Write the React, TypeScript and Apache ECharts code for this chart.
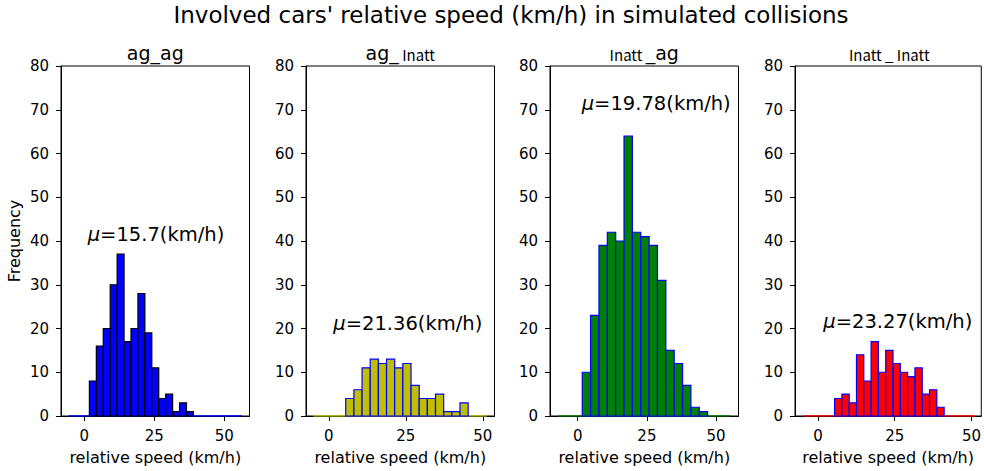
import React, { useEffect, useRef } from "react";
import * as echarts from "echarts";

// ---- data ----
const counts1 = [8, 16, 20, 30, 37, 17, 20, 28, 19, 11, 4, 5, 1, 3, 1];
const counts2 = [4, 6, 11, 13, 12, 13, 11, 12, 7, 4, 4, 5, 1, 1, 3];
const counts3 = [10, 23, 39, 42, 40, 64, 42, 41, 39, 31, 15, 12, 7, 2, 1];
const counts4 = [4, 5, 3, 14, 8, 17, 10, 15, 12, 10, 9, 11, 5, 6, 2];

// histogram bin definitions (km/h): first edge and bin width
const binStarts = [1.8, 5.5, 1.65, 5.4];
const binWidths = [2.48, 2.65, 3.02, 2.38];
// zero-count stretch of each histogram (km/h)
const flatRanges = [
  [-5.7, 56.4],
  [-5.0, 51.3],
  [-7.0, 55.1],
  [-4.8, 51.1],
];
const xMins = [-8.35, -7.4, -10.0, -7.5];
const xMaxs = [59.05, 53.8, 58.1, 53.2];
const xTicks = [0, 25, 50];
const means = ["15.7", "21.36", "19.78", "23.27"];

const allCounts = [counts1, counts2, counts3, counts4];
const faceColors = ["#0000ff", "#bfbf00", "#008000", "#ff0000"];
const edgeColors = ["#000000", "#0000ff", "#0000ff", "#0000ff"];
const titles = [
  "{a|ag_ag}",
  "{a|ag_} {b|Inatt}",
  "{b|Inatt }{a|_ag}",
  "{b|Inatt _ Inatt}",
];

const FONT = "DejaVu Sans";
const GRID_LEFT = [61, 306, 550, 795];
const GRID_W = 188.5;
const GRID_TOP = 66;
const GRID_H = 350;
const annotPos = [
  [87.7, 234.5],
  [333.3, 323],
  [581.7, 103],
  [823.3, 321.7],
];

export default function App() {
  const ref = useRef<HTMLDivElement>(null);
  useEffect(() => {
    document.body.style.margin = "0";
    const chart = echarts.init(ref.current!, null, { renderer: "svg" });

    const grid: any[] = [];
    const xAxis: any[] = [];
    const yAxis: any[] = [];
    const series: any[] = [];
    const graphic: any[] = [];

    graphic.push({
      type: "text",
      x: 511,
      y: 15,
      style: {
        text: "Involved cars' relative speed (km/h) in simulated collisions",
        font: `23px '${FONT}'`,
        fill: "#000",
        textAlign: "center",
        textVerticalAlign: "middle",
      },
    });
    graphic.push({
      type: "text",
      x: 14,
      y: 241,
      rotation: Math.PI / 2,
      style: {
        text: "Frequency",
        font: `16px '${FONT}'`,
        fill: "#000",
        textAlign: "center",
        textVerticalAlign: "middle",
      },
    });

    for (let i = 0; i < 4; i++) {
      grid.push({
        left: GRID_LEFT[i],
        top: GRID_TOP,
        width: GRID_W,
        height: GRID_H,
        show: true,
        borderColor: "#000",
        borderWidth: 1,
        backgroundColor: "transparent",
      });
      xAxis.push({
        type: "value",
        gridIndex: i,
        min: xMins[i],
        max: xMaxs[i],
        name: "relative speed (km/h)",
        nameLocation: "middle",
        nameGap: 33,
        nameTextStyle: { fontFamily: FONT, fontSize: 16, color: "#000" },
        axisLine: { show: true, onZero: false, lineStyle: { color: "#000", width: 1 } },
        axisTick: { show: true, length: 5, customValues: xTicks, lineStyle: { color: "#000" } },
        axisLabel: {
          customValues: xTicks,
          fontFamily: FONT,
          fontSize: 15,
          color: "#000",
          margin: 12,
        },
        splitLine: { show: false },
      });
      yAxis.push({
        type: "value",
        gridIndex: i,
        min: 0,
        max: 80,
        interval: 10,
        axisLine: { show: true, onZero: false, lineStyle: { color: "#000", width: 1 } },
        axisTick: { show: true, length: 5, lineStyle: { color: "#000" } },
        axisLabel: { fontFamily: FONT, fontSize: 15, color: "#000", margin: 12 },
        splitLine: { show: false },
      });

      const fr = flatRanges[i];
      series.push({
        type: "line",
        xAxisIndex: i,
        yAxisIndex: i,
        data: [
          [fr[0], 0],
          [fr[1], 0],
        ],
        showSymbol: false,
        symbol: "none",
        lineStyle: { color: faceColors[i], width: 1.5 },
        z: 1,
        silent: true,
      });

      const bars = allCounts[i].map((c, k) => [
        binStarts[i] + k * binWidths[i],
        binStarts[i] + (k + 1) * binWidths[i],
        c,
      ]);
      const face = faceColors[i];
      const edge = edgeColors[i];
      series.push({
        type: "custom",
        xAxisIndex: i,
        yAxisIndex: i,
        data: bars,
        encode: { x: [0, 1], y: 2 },
        z: 2,
        renderItem: (params: any, api: any) => {
          const p0 = api.coord([api.value(0), api.value(2)]);
          const p1 = api.coord([api.value(1), 0]);
          return {
            type: "rect",
            shape: { x: p0[0], y: p0[1], width: p1[0] - p0[0], height: p1[1] - p0[1] },
            style: { fill: face, stroke: edge, lineWidth: 1.2 },
          };
        },
      });

      graphic.push({
        type: "text",
        x: GRID_LEFT[i] + GRID_W / 2,
        y: 51,
        style: {
          text: titles[i],
          fill: "#000",
          textAlign: "center",
          textVerticalAlign: "middle",
          rich: {
            a: { fontFamily: FONT, fontSize: 19, color: "#000", verticalAlign: "bottom", lineHeight: 22 },
            b: {
              fontFamily: "Noto Sans CJK SC",
              fontSize: 15,
              color: "#000",
              verticalAlign: "bottom",
              lineHeight: 21,
            },
          },
        },
      });

      graphic.push({
        type: "text",
        x: annotPos[i][0],
        y: annotPos[i][1],
        style: {
          text: `{mu|μ}{t|=${means[i]}(km/h)}`,
          fill: "#000",
          textAlign: "left",
          textVerticalAlign: "middle",
          rich: {
            mu: { fontFamily: FONT, fontStyle: "italic", fontSize: 19.5, color: "#000" },
            t: { fontFamily: FONT, fontSize: 19.5, color: "#000" },
          },
        },
      });
    }

    chart.setOption({
      animation: false,
      backgroundColor: "#fff",
      grid,
      xAxis,
      yAxis,
      series,
      graphic,
    });
    return () => chart.dispose();
  }, []);
  return <div ref={ref} style={{ width: 984, height: 471 }} />;
}
